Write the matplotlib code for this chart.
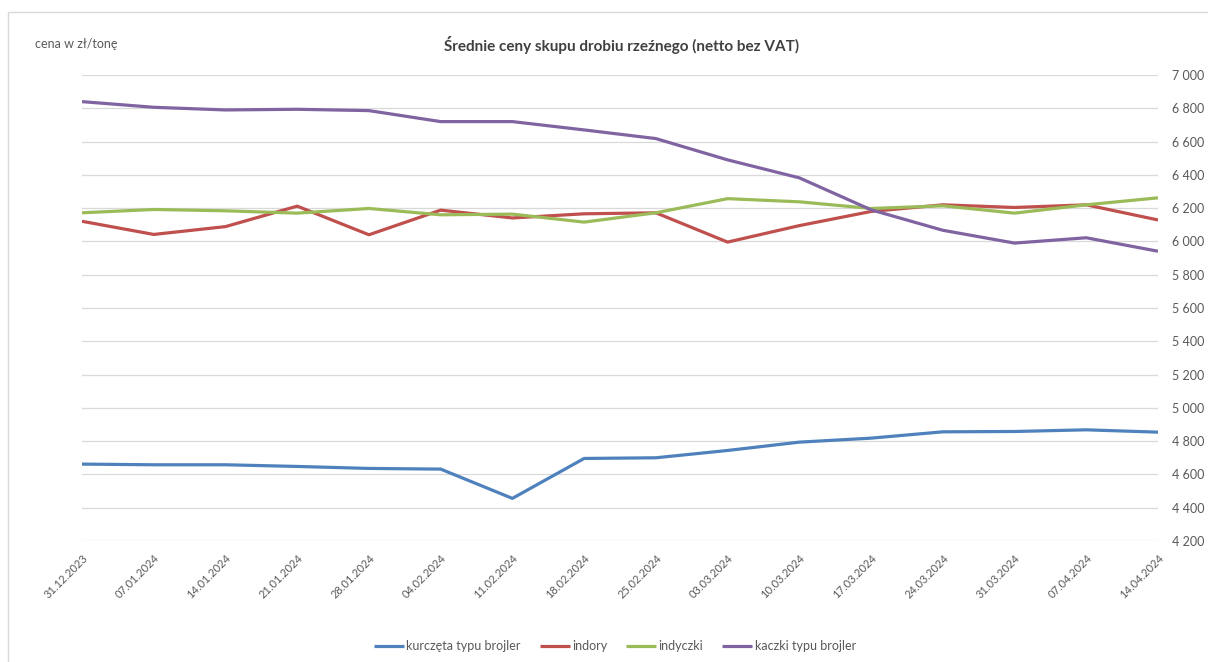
import matplotlib
matplotlib.use("Agg")
import matplotlib.pyplot as plt
from matplotlib.patches import Rectangle
from matplotlib.ticker import FuncFormatter

plt.rcParams['font.family'] = ['Lato', 'DejaVu Sans']

dates = ['31.12.2023', '07.01.2024', '14.01.2024', '21.01.2024', '28.01.2024',
         '04.02.2024', '11.02.2024', '18.02.2024', '25.02.2024', '03.03.2024',
         '10.03.2024', '17.03.2024', '24.03.2024', '31.03.2024', '07.04.2024',
         '14.04.2024']

kurczeta = [4662, 4658, 4658, 4648, 4636, 4632, 4456, 4696, 4700, 4744,
            4794, 4818, 4856, 4858, 4868, 4854]
indory = [6121, 6042, 6089, 6212, 6040, 6188, 6141, 6166, 6172, 5996,
          6095, 6180, 6220, 6204, 6220, 6129]
indyczki = [6172, 6192, 6184, 6170, 6198, 6160, 6164, 6116, 6172, 6257,
            6238, 6198, 6214, 6170, 6220, 6262]
kaczki = [6840, 6806, 6790, 6794, 6786, 6720, 6720, 6670, 6618, 6490,
          6382, 6190, 6067, 5990, 6022, 5941]

names = ['kurczęta typu brojler', 'indory', 'indyczki', 'kaczki typu brojler']
colors = ['#4F81BD', '#C0504D', '#9BBB59', '#8064A2']

fig = plt.figure(figsize=(12.08, 6.62), dpi=100)
fig.patches.append(Rectangle((8 / 1208, -0.1), 1.2, 1 - 12 / 662 + 0.1,
                             transform=fig.transFigure, fill=False,
                             edgecolor='#D9D9D9', linewidth=1))

ax = fig.add_axes([82 / 1208, 1 - 541 / 662, (1158 - 82) / 1208, (541 - 75) / 662])

x = list(range(len(dates)))
for vals, name, c in zip([kurczeta, indory, indyczki, kaczki], names, colors):
    ax.plot(x, vals, color=c, linewidth=2.3, label=name, solid_capstyle='butt')

ax.set_xlim(0, len(dates) - 1)
ax.set_ylim(4200, 7000)
ax.set_yticks(range(4200, 7001, 200))
ax.yaxis.set_major_formatter(FuncFormatter(lambda v, p: f'{int(v):,}'.replace(',', ' ')))
ax.yaxis.tick_right()
ax.grid(axis='y', color='#D9D9D9', linewidth=0.9)
ax.set_axisbelow(True)
for s in ax.spines.values():
    s.set_visible(False)
ax.tick_params(axis='y', length=0, pad=10, labelsize=9, labelcolor='#595959')
ax.tick_params(axis='x', length=0, pad=8)

ax.set_xticks(x)
ax.set_xticklabels(dates, rotation=45, ha='right', rotation_mode='anchor',
                   fontsize=8, color='#595959')

fig.text(622 / 1208, 1 - 45 / 662, 'Średnie ceny skupu drobiu rzeźnego (netto bez VAT)',
         ha='center', va='center', fontsize=11, fontweight='bold', color='#404040')
fig.text(35 / 1208, 1 - 44 / 662, 'cena w zł/tonę', ha='left', va='center',
         fontsize=9, color='#595959')

fig.legend(loc='center', bbox_to_anchor=(615 / 1208, 1 - 646 / 662), ncol=4,
           frameon=False, fontsize=9, handlelength=2.4, handletextpad=0.2,
           columnspacing=1.5, labelcolor='#595959')

fig.savefig('out.png', dpi=100)
